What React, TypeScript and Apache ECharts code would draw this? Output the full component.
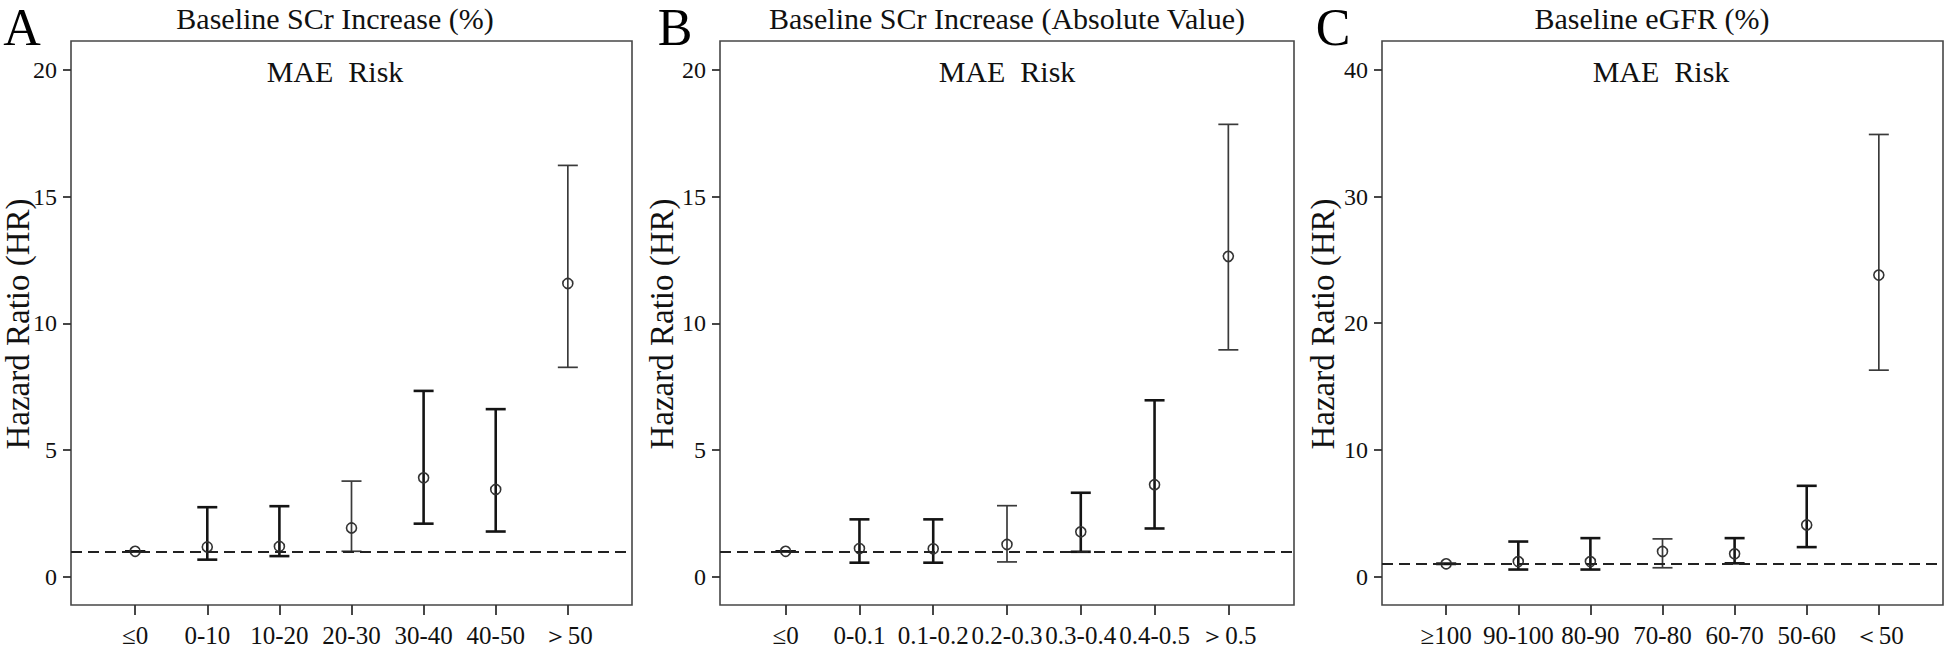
import React, { useEffect, useRef } from "react";
import * as echarts from "echarts";

// ---------- data ----------
const catsA = ["≤0", "0-10", "10-20", "20-30", "30-40", "40-50", "＞50"];
const hrA = [1.0, 1.17, 1.19, 1.92, 3.9, 3.44, 11.57];
const loA = [1.0, 0.67, 0.81, 1.0, 2.09, 1.78, 8.26];
const hiA = [1.0, 2.74, 2.78, 3.77, 7.33, 6.61, 16.23];

const catsB = ["≤0", "0-0.1", "0.1-0.2", "0.2-0.3", "0.3-0.4", "0.4-0.5", "＞0.5"];
const hrB = [1.0, 1.11, 1.1, 1.27, 1.77, 3.63, 12.64];
const loB = [1.0, 0.55, 0.55, 0.58, 0.98, 1.9, 8.95];
const hiB = [1.0, 2.26, 2.26, 2.8, 3.31, 6.96, 17.85];

const catsC = ["≥100", "90-100", "80-90", "70-80", "60-70", "50-60", "＜50"];
const hrC = [1.0, 1.18, 1.18, 1.98, 1.79, 4.07, 23.8];
const loC = [1.0, 0.55, 0.55, 0.69, 1.04, 2.32, 16.29];
const hiC = [1.0, 2.76, 3.03, 2.97, 3.03, 7.16, 34.9];

const yTicksAB = [0, 5, 10, 15, 20];
const yTicksC = [0, 10, 20, 30, 40];
const refLine = 1;

const panelLetters = ["A", "B", "C"];
const panelTitles = [
  "Baseline SCr Increase (%)",
  "Baseline SCr Increase (Absolute Value)",
  "Baseline eGFR (%)",
];
const subTitle = "MAE  Risk";
const yName = "Hazard Ratio (HR)";

// ---------- layout / style ----------
const FONT = "'Liberation Serif', 'Times New Roman', Times, serif";
const TOP = 41;
const HEIGHT = 565;
const panels = [
  { left: 71, width: 561, cats: catsA, hr: hrA, lo: loA, hi: hiA, ticks: yTicksAB, yMin: -1.12, yMax: 21.14, titleX: 335, subX: 335, letterX: 22, yNameX: 17.5 },
  { left: 720, width: 574, cats: catsB, hr: hrB, lo: loB, hi: hiB, ticks: yTicksAB, yMin: -1.12, yMax: 21.14, titleX: 1007, subX: 1007, letterX: 675, yNameX: 662 },
  { left: 1382, width: 561, cats: catsC, hr: hrC, lo: loC, hi: hiC, ticks: yTicksC, yMin: -2.25, yMax: 42.28, titleX: 1652, subX: 1661, letterX: 1333, yNameX: 1322.5 },
];

function buildOption() {
  const grid: any[] = [];
  const xAxis: any[] = [];
  const yAxis: any[] = [];
  const series: any[] = [];
  const graphic: any[] = [];
  const thin = [3, 6];

  panels.forEach((p, gi) => {
    grid.push({
      left: p.left,
      top: TOP,
      width: p.width,
      height: HEIGHT,
      show: true,
      borderColor: "#474747",
      borderWidth: 1.6,
      backgroundColor: "transparent",
    });
    const idx = p.cats.map((_, i) => i);
    xAxis.push({
      type: "value",
      gridIndex: gi,
      position: "bottom",
      min: -0.89,
      max: p.cats.length - 1 + 0.89,
      axisLine: { show: false, onZero: false },
      splitLine: { show: false },
      axisTick: { show: true, length: 10, customValues: idx, lineStyle: { color: "#333", width: 1.8 } },
      axisLabel: {
        show: true,
        customValues: idx,
        formatter: (v: number) => p.cats[Math.round(v)] ?? "",
        fontFamily: FONT,
        fontSize: 25,
        color: "#111",
        margin: 18,
      },
    });
    yAxis.push({
      type: "value",
      gridIndex: gi,
      position: "left",
      min: p.yMin,
      max: p.yMax,
      axisLine: { show: false, onZero: false },
      splitLine: { show: false },
      axisTick: { show: true, length: 8, customValues: p.ticks, lineStyle: { color: "#333", width: 1.8 } },
      axisLabel: {
        show: true,
        customValues: p.ticks,
        fontFamily: FONT,
        fontSize: 24,
        color: "#111",
        margin: 14,
      },
    });
    series.push({
      type: "custom",
      xAxisIndex: gi,
      yAxisIndex: gi,
      data: p.hr.map((v, i) => [i, p.lo[i], p.hi[i], v]),
      encode: { x: 0, y: [1, 2, 3] },
      renderItem: (params: any, api: any) => {
        const i = api.value(0);
        const pLo = api.coord([i, api.value(1)]);
        const pHi = api.coord([i, api.value(2)]);
        const pHr = api.coord([i, api.value(3)]);
        const isThin = thin.indexOf(i) >= 0;
        const st = {
          stroke: isThin ? "#3a3a3a" : "#141414",
          lineWidth: isThin ? 1.7 : 2.6,
          fill: "none",
        };
        const half = 10;
        return {
          type: "group",
          children: [
            { type: "line", shape: { x1: pLo[0], y1: pLo[1], x2: pHi[0], y2: pHi[1] }, style: st },
            { type: "line", shape: { x1: pHi[0] - half, y1: pHi[1], x2: pHi[0] + half, y2: pHi[1] }, style: st },
            { type: "line", shape: { x1: pLo[0] - half, y1: pLo[1], x2: pLo[0] + half, y2: pLo[1] }, style: st },
            { type: "circle", shape: { cx: pHr[0], cy: pHr[1], r: 5 }, style: { stroke: "#333", lineWidth: 1.6, fill: "none" } },
          ],
        };
      },
    });
    series.push({
      type: "line",
      xAxisIndex: gi,
      yAxisIndex: gi,
      data: [],
      silent: true,
      markLine: {
        silent: true,
        symbol: "none",
        label: { show: false },
        lineStyle: { color: "#222", width: 2, type: [11, 6] },
        data: [{ yAxis: refLine }],
      },
    });

    graphic.push({
      type: "text",
      x: p.letterX,
      y: 27,
      style: { text: panelLetters[gi], fontSize: 52, fontFamily: FONT, fill: "#000", align: "center", verticalAlign: "middle" },
    });
    graphic.push({
      type: "text",
      x: p.titleX,
      y: 18,
      style: { text: panelTitles[gi], fontSize: 30, fontFamily: FONT, fill: "#111", align: "center", verticalAlign: "middle" },
    });
    graphic.push({
      type: "text",
      x: p.subX,
      y: 71,
      style: { text: subTitle, fontSize: 30, fontFamily: FONT, fill: "#111", align: "center", verticalAlign: "middle" },
    });
    graphic.push({
      type: "text",
      x: p.yNameX,
      y: 324,
      rotation: Math.PI / 2,
      style: { text: yName, fontSize: 33, fontFamily: FONT, fill: "#111", align: "center", verticalAlign: "middle" },
    });
  });

  return {
    animation: false,
    backgroundColor: "#fff",
    grid,
    xAxis,
    yAxis,
    series,
    graphic,
  };
}

export default function App() {
  const ref = useRef<HTMLDivElement>(null);
  useEffect(() => {
    if (!ref.current) return;
    const chart = echarts.init(ref.current, undefined, { renderer: "svg" });
    chart.setOption(buildOption() as any);
    return () => chart.dispose();
  }, []);
  return (
    <div
      ref={ref}
      style={{ position: "fixed", left: 0, top: 0, width: 1946, height: 648, background: "#fff" }}
    />
  );
}
